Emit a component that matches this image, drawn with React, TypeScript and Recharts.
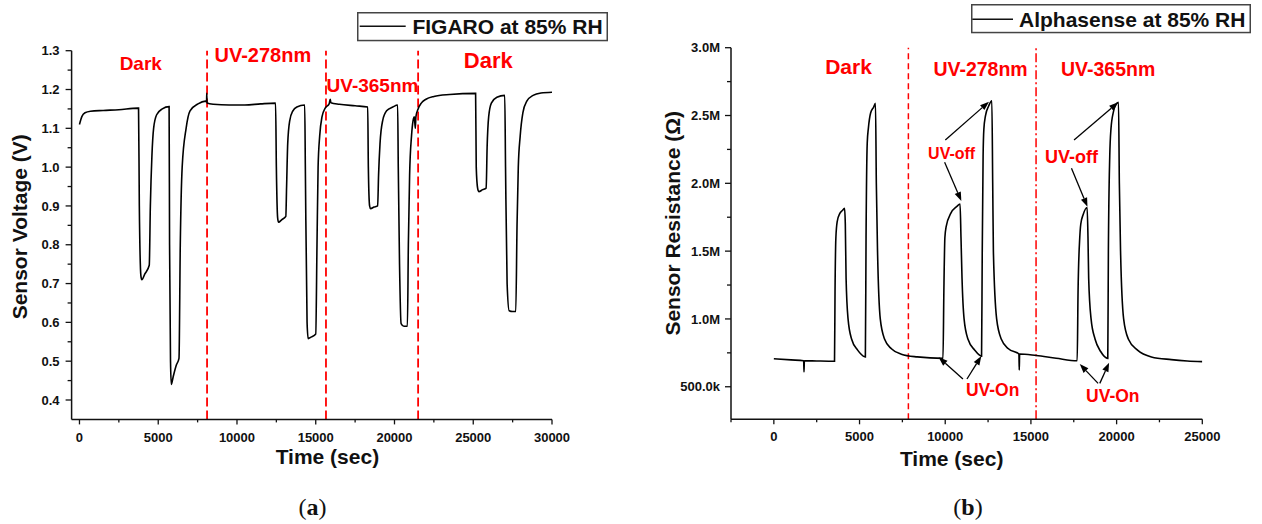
import React from 'react';
import { LineChart, Line, XAxis, YAxis, ReferenceLine, ReferenceDot, Legend } from 'recharts';

const SANS = '"Liberation Sans", Arial, Helvetica, sans-serif';
const SERIF = '"Liberation Serif", "Times New Roman", serif';
const INK = '#111111';
const RED = '#ff0000';

// ---------------- Chart (a): FIGARO sensor voltage ----------------
const seriesNameA = 'FIGARO at 85% RH';
const timeA = [
  0, 150, 350, 700, 1500, 2500, 3700, 3750, 3800, 3900,
  3960, 4150, 4430, 4500, 4600, 4707, 4900, 5260, 5690, 5720,
  5780, 5830, 5950, 6150, 6318, 6400, 6520, 6770, 7020, 7525,
  8000, 8070, 8080, 8100, 8500, 9500, 10500, 11500, 12450, 12500,
  12580, 12640, 12850, 13100, 13150, 13220, 13350, 13550, 13800, 14300,
  14340, 14450, 14520, 14700, 15000, 15080, 15150, 15250, 15400, 15600,
  15850, 15920, 15960, 16500, 17500, 18300, 18340, 18420, 18480, 18700,
  18930, 18990, 19080, 19250, 19500, 19900, 20200, 20240, 20320, 20420,
  20600, 20820, 20880, 20960, 21080, 21180, 21260, 21320, 21360, 21500,
  21700, 22000, 22500, 23500, 25150, 25190, 25280, 25350, 25600, 25820,
  25880, 25980, 26150, 26500, 27000, 27050, 27150, 27280, 27500, 27700,
  27780, 27860, 27980, 28150, 28400, 28800, 29300, 30000,
];
const voltageA = [
  1.110, 1.130, 1.140, 1.144, 1.146, 1.148, 1.152, 1.152, 0.900, 0.720,
  0.710, 0.725, 0.747, 0.900, 1.030, 1.100, 1.135, 1.150, 1.156, 0.800,
  0.500, 0.440, 0.460, 0.490, 0.507, 0.800, 1.000, 1.100, 1.145, 1.163,
  1.170, 1.168, 1.190, 1.165, 1.162, 1.160, 1.160, 1.163, 1.165, 1.000,
  0.870, 0.858, 0.865, 0.873, 0.950, 1.060, 1.120, 1.145, 1.155, 1.160,
  1.000, 0.600, 0.558, 0.562, 0.570, 0.800, 1.000, 1.080, 1.130, 1.152,
  1.163, 1.175, 1.166, 1.162, 1.158, 1.155, 1.000, 0.900, 0.893, 0.897,
  0.900, 0.980, 1.060, 1.120, 1.145, 1.155, 1.160, 1.000, 0.750, 0.597,
  0.590, 0.590, 0.800, 0.980, 1.080, 1.120, 1.130, 1.100, 1.130, 1.150,
  1.165, 1.175, 1.182, 1.187, 1.190, 1.000, 0.945, 0.937, 0.942, 0.946,
  1.050, 1.130, 1.165, 1.180, 1.185, 1.000, 0.700, 0.630, 0.628, 0.628,
  0.850, 1.000, 1.080, 1.140, 1.170, 1.185, 1.191, 1.193,
];
const xMajorA = [0, 5000, 10000, 15000, 20000, 25000, 30000];
const xLabelsA = ['0', '5000', '10000', '15000', '20000', '25000', '30000'];
const xMinorA = [2500, 7500, 12500, 17500, 22500, 27500];
const yMajorA = [0.4, 0.5, 0.6, 0.7, 0.8, 0.9, 1.0, 1.1, 1.2, 1.3];
const yLabelsA = ['0.4', '0.5', '0.6', '0.7', '0.8', '0.9', '1.0', '1.1', '1.2', '1.3'];
const yMinorA = [0.45, 0.55, 0.65, 0.75, 0.85, 0.95, 1.05, 1.15, 1.25];
const phaseLinesA = [8100, 15650, 21500];
const phaseTextA = ['Dark', 'UV-278nm', 'UV-365nm', 'Dark'];
const phaseTimeA = [3892, 11644, 18603, 25956];
const phaseValueA = [1.2675, 1.289, 1.2118, 1.276];
const phaseSizeA = [19, 20, 19, 22];

// ---------------- Chart (b): Alphasense sensor resistance ----------------
const seriesNameB = 'Alphasense at 85% RH';
const timeB = [
  0, 1000, 1740, 1760, 1780, 2500, 3540, 3570, 3620, 3700,
  3850, 4000, 4125, 4170, 4215, 4330, 4540, 4890, 5305, 5340,
  5380, 5450, 5515, 5650, 5815, 5930, 5980, 6050, 6210, 6465,
  6860, 7440, 8365, 9870, 9920, 9980, 10055, 10330, 10680, 10865,
  10920, 10980, 11100, 11330, 11725, 12120, 12160, 12210, 12255, 12350,
  12535, 12720, 12770, 12810, 13000, 13275, 13690, 14270, 14300, 14320,
  14340, 15315, 16475, 17700, 17750, 17850, 17910, 18050, 18280, 18330,
  18370, 18510, 18745, 19070, 19485, 19520, 19600, 19670, 19820, 19950,
  20110, 20160, 20230, 20410, 20690, 21220, 22030, 23190, 24120, 25000,
];
const resistanceB = [
  706000, 698000, 692000, 610000, 692000, 690000, 688000, 1200000, 1600000, 1720000,
  1778000, 1800000, 1815000, 1700000, 1300000, 1000000, 850000, 770000, 721000, 720000,
  1600000, 2300000, 2405000, 2520000, 2560000, 2590000, 2000000, 1500000, 1000000, 850000,
  780000, 740000, 720000, 709000, 1200000, 1600000, 1680000, 1780000, 1830000, 1847000,
  1600000, 1300000, 1000000, 850000, 770000, 726000, 1500000, 2200000, 2400000, 2500000,
  2570000, 2609000, 2000000, 1500000, 1000000, 850000, 780000, 745000, 742000, 623000,
  742000, 730000, 710000, 692000, 1200000, 1600000, 1700000, 1770000, 1822000, 1600000,
  1300000, 1000000, 850000, 760000, 709000, 1500000, 2200000, 2400000, 2530000, 2580000,
  2597000, 2000000, 1500000, 1000000, 850000, 770000, 720000, 700000, 690000, 685000,
];
const xMajorB = [0, 5000, 10000, 15000, 20000, 25000];
const xLabelsB = ['0', '5000', '10000', '15000', '20000', '25000'];
const xMinorB = [-2500, 2500, 7500, 12500, 17500, 22500];
const yMajorB = [500000, 1000000, 1500000, 2000000, 2500000, 3000000];
const yLabelsB = ['500.0k', '1.0M', '1.5M', '2.0M', '2.5M', '3.0M'];
const yMinorB = [750000, 1250000, 1750000, 2250000, 2750000];
const phaseLinesB = [7850, 15300];
const noteTextB = ['Dark', 'UV-278nm', 'UV-365nm', 'UV-off', 'UV-off', 'UV-On', 'UV-On'];
const noteTimeB = [4357, 12062, 19504, 10374, 17366, 12769, 19778];
const noteValueB = [2860000, 2841000, 2843000, 2221000, 2201000, 476000, 434000];
const noteSizeB = [21, 19.5, 19.5, 16, 18, 17.5, 17.5];
const arrowFromTimeB = [10006, 9965, 17517, 17366, 11034, 11268, 18920, 19019];
const arrowFromValueB = [2319000, 2155000, 2319000, 2111000, 557000, 557000, 525000, 525000];
const arrowToTimeB = [12553, 10940, 20088, 18300, 9614, 12109, 17850, 19562];
const arrowToValueB = [2602000, 1870000, 2597000, 1827000, 717000, 726000, 667000, 677000];

const dataA = timeA.map((t, i) => ({ t, v: voltageA[i] }));
const dataB = timeB.map((t, i) => ({ t, r: resistanceB[i] }));
const ticksXA = [...xMajorA, ...xMinorA].sort((a, b) => a - b);
const ticksYA = [...yMajorA, ...yMinorA].sort((a, b) => a - b);
const ticksXB = [...xMajorB, ...xMinorB].sort((a, b) => a - b);
const ticksYB = [...yMajorB, ...yMinorB].sort((a, b) => a - b);

const tickStyle: React.CSSProperties = { fontFamily: SANS, fontWeight: 700, fontSize: 13, fill: INK };
const titleStyle: React.CSSProperties = { fontFamily: SANS, fontWeight: 700, fontSize: 21, fill: INK };

const findMajor = (majors: number[], v: number) => majors.findIndex((m) => Math.abs(m - v) < 1e-6);

function makeXTick(majors: number[], labels: string[]) {
  return function XTick(props: any) {
    const { x, y, payload } = props;
    const i = findMajor(majors, payload.value);
    return (
      <g>
        <line x1={x} y1={y} x2={x} y2={y + (i >= 0 ? 5 : 3)} stroke={INK} strokeWidth={1.3} />
        {i >= 0 ? (
          <text x={x} y={y + 17.5} dy="0.36em" textAnchor="middle" style={tickStyle}>
            {labels[i]}
          </text>
        ) : null}
      </g>
    );
  };
}

function makeYTick(majors: number[], labels: string[], gap: number) {
  return function YTick(props: any) {
    const { x, y, payload } = props;
    const i = findMajor(majors, payload.value);
    return (
      <g>
        <line x1={x - (i >= 0 ? 6 : 4)} y1={y} x2={x} y2={y} stroke={INK} strokeWidth={1.3} />
        {i >= 0 ? (
          <text x={x - gap} y={y} dy="0.36em" textAnchor="end" style={tickStyle}>
            {labels[i]}
          </text>
        ) : null}
      </g>
    );
  };
}

function makeText(text: string, size: number) {
  return function TextShape(p: any) {
    if (typeof p.cx !== 'number' || typeof p.cy !== 'number') return <g />;
    return (
      <text x={p.cx} y={p.cy} dy="0.36em" textAnchor="middle"
        style={{ fontFamily: SANS, fontWeight: 700, fontSize: size, fill: RED }}>
        {text}
      </text>
    );
  };
}

function ArrowShape(props: any) {
  const { x1, y1, x2, y2 } = props;
  if (![x1, y1, x2, y2].every((n) => typeof n === 'number' && isFinite(n))) return <g />;
  const ang = Math.atan2(y2 - y1, x2 - x1);
  const L = 9;
  const W = 3.3;
  const bx = x2 - L * Math.cos(ang);
  const by = y2 - L * Math.sin(ang);
  const px = -Math.sin(ang) * W;
  const py = Math.cos(ang) * W;
  return (
    <g>
      <line x1={x1} y1={y1} x2={bx} y2={by} stroke="#000" strokeWidth={1.3} />
      <polygon points={`${x2},${y2} ${bx + px},${by + py} ${bx - px},${by - py}`} fill="#000" />
    </g>
  );
}

function makeLegend(w: number, h: number, lineStart: number, lineEnd: number, textX: number, midY: number) {
  return function LegendBox(props: any) {
    const name = props.payload && props.payload[0] ? props.payload[0].value : '';
    return (
      <svg width={w} height={h} style={{ display: 'block', overflow: 'visible' }}>
        <rect x={0.75} y={0.75} width={w - 1.5} height={h - 1.5} fill="#fff" stroke="#444" strokeWidth={1.5} />
        <line x1={lineStart} y1={midY} x2={lineEnd} y2={midY} stroke={INK} strokeWidth={1.5} />
        <text x={textX} y={midY} dy="0.36em" style={{ fontFamily: SANS, fontWeight: 700, fontSize: 21, fill: INK }}>
          {name}
        </text>
      </svg>
    );
  };
}

function makeXTitle(text: string, dx: number, dyBase: number) {
  return function XTitle(p: any) {
    const vb = p.viewBox || { x: 0, y: 0, width: 0, height: 0 };
    return (
      <text x={vb.x + vb.width / 2 + dx} y={vb.y + dyBase} textAnchor="middle" style={titleStyle}>
        {text}
      </text>
    );
  };
}

function makeYTitle(text: string, baseX: number, dy: number) {
  return function YTitle(p: any) {
    const vb = p.viewBox || { x: 0, y: 0, width: 0, height: 0 };
    const bx = vb.x + baseX;
    const cy = vb.y + vb.height / 2 + dy;
    return (
      <text x={bx} y={cy} transform={`rotate(-90 ${bx} ${cy})`} textAnchor="middle" style={titleStyle}>
        {text}
      </text>
    );
  };
}

const axisLine = { stroke: INK, strokeWidth: 1.5 };

function ChartA() {
  return (
    <LineChart width={620} height={480} data={dataA} margin={{ top: 50.7, right: 68, bottom: 0, left: 0 }}>
      <XAxis type="number" dataKey="t" domain={[-500, 30000]} ticks={ticksXA} interval={0}
        tickSize={0} tickMargin={0} tickLine={false} axisLine={axisLine} height={60.6}
        allowDataOverflow tick={makeXTick(xMajorA, xLabelsA)}
        label={makeXTitle('Time (sec)', 15.6, 44.6)} />
      <YAxis type="number" domain={[0.35, 1.3]} ticks={ticksYA} interval={0}
        tickSize={0} tickMargin={0} tickLine={false} axisLine={axisLine} width={71.6}
        allowDataOverflow tick={makeYTick(yMajorA, yLabelsA, 12)}
        label={makeYTitle('Sensor Voltage (V)', 27, -8.3)} />
      <Legend layout="vertical" align="center" verticalAlign="middle"
        wrapperStyle={{ left: 357.3, top: 12, width: 251, height: 29.3, lineHeight: 0 }}
        content={makeLegend(251, 29.3, 2.7, 48.7, 55.4, 14.3)} />
      {phaseLinesA.map((t, i) => (
        <ReferenceLine key={`pa${i}`} x={t} stroke={RED} strokeWidth={1.8} strokeDasharray="9 4" />
      ))}
      <Line name={seriesNameA} type="monotone" dataKey="v" stroke="#000" strokeWidth={1.6}
        dot={false} isAnimationActive={false} />
      {phaseTextA.map((txt, i) => (
        <ReferenceDot key={`ta${i}`} x={phaseTimeA[i]} y={phaseValueA[i]} r={0}
          shape={makeText(txt, phaseSizeA[i])} />
      ))}
    </LineChart>
  );
}

function ChartB() {
  return (
    <LineChart width={622} height={480} data={dataB} margin={{ top: 47.7, right: 59.7, bottom: 0, left: 0 }}>
      <XAxis type="number" dataKey="t" domain={[-2500, 25000]} ticks={ticksXB} interval={0}
        tickSize={0} tickMargin={0} tickLine={false} axisLine={axisLine} height={60.7}
        allowDataOverflow tick={makeXTick(xMajorB, xLabelsB)}
        label={makeXTitle('Time (sec)', -15, 47)} />
      <YAxis type="number" domain={[260000, 3000000]} ticks={ticksYB} interval={0}
        tickSize={0} tickMargin={0} tickLine={false} axisLine={axisLine} width={91}
        allowDataOverflow tick={makeYTick(yMajorB, yLabelsB, 11)}
        label={makeYTitle('Sensor Resistance (Ω)', 40, -10.2)} />
      <Legend layout="vertical" align="center" verticalAlign="middle"
        wrapperStyle={{ left: 330.7, top: 4, width: 280, height: 29.3, lineHeight: 0 }}
        content={makeLegend(280, 29.3, 1.3, 42, 48, 15.2)} />
      <ReferenceLine x={phaseLinesB[0]} stroke={RED} strokeWidth={1.5} strokeDasharray="6 4" />
      <ReferenceLine x={phaseLinesB[1]} stroke={RED} strokeWidth={1.5} strokeDasharray="9 3 2 3" />
      <Line name={seriesNameB} type="monotone" dataKey="r" stroke="#000" strokeWidth={1.6}
        dot={false} isAnimationActive={false} />
      {arrowFromTimeB.map((t, i) => (
        <ReferenceLine key={`ar${i}`}
          segment={[{ x: t, y: arrowFromValueB[i] }, { x: arrowToTimeB[i], y: arrowToValueB[i] }]}
          shape={ArrowShape} />
      ))}
      {noteTextB.map((txt, i) => (
        <ReferenceDot key={`tb${i}`} x={noteTimeB[i]} y={noteValueB[i]} r={0}
          shape={makeText(txt, noteSizeB[i])} />
      ))}
    </LineChart>
  );
}

const captionStyle: React.CSSProperties = {
  position: 'absolute', top: 494, width: 100, textAlign: 'center',
  fontFamily: SERIF, fontSize: 24, lineHeight: '26px', color: '#111',
};

export default function App() {
  return (
    <div style={{ position: 'absolute', left: 0, top: 0, width: 1262, height: 524, background: '#fff', overflow: 'hidden' }}>
      <div style={{ position: 'absolute', left: 0, top: 0 }}>
        <ChartA />
      </div>
      <div style={{ position: 'absolute', left: 640, top: 0 }}>
        <ChartB />
      </div>
      <div style={{ ...captionStyle, left: 262.5 }}>
        (<b>a</b>)
      </div>
      <div style={{ ...captionStyle, left: 918 }}>
        (<b>b</b>)
      </div>
    </div>
  );
}
